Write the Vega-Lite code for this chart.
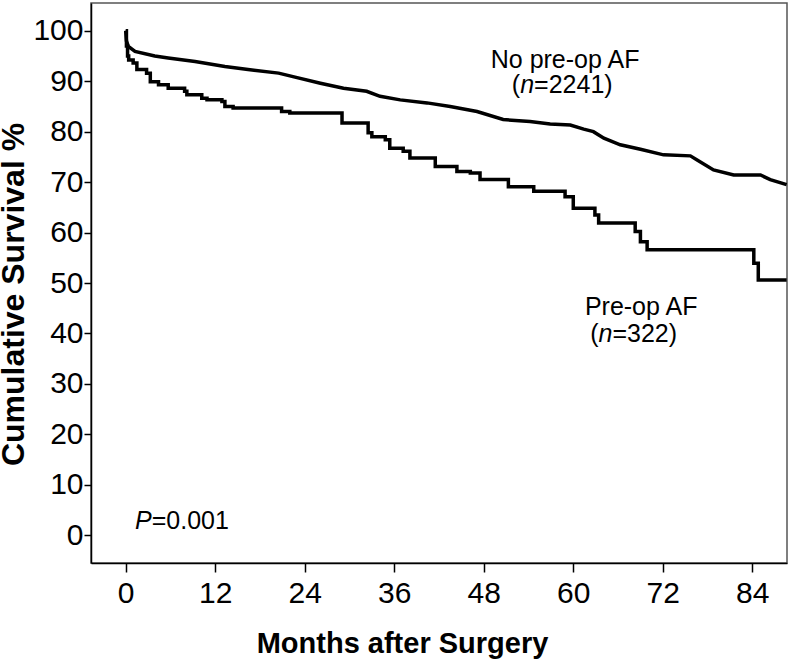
{
  "$schema": "https://vega.github.io/schema/vega-lite/v6.json",
  "width": 696,
  "height": 560,
  "autosize": {"type": "none"},
  "padding": {"left": 91, "top": 3, "right": 4, "bottom": 97},
  "background": "white",
  "config": {
    "view": {"stroke": "#555", "strokeWidth": 1.5},
    "font": "Liberation Sans"
  },
  "datasets": {
    "curves": [
      {"group": "No pre-op AF", "month": 0, "survival": 100},
      {"group": "No pre-op AF", "month": 0.1, "survival": 98},
      {"group": "No pre-op AF", "month": 0.35, "survival": 96.9},
      {"group": "No pre-op AF", "month": 1.25, "survival": 95.9},
      {"group": "No pre-op AF", "month": 3.9, "survival": 95.0},
      {"group": "No pre-op AF", "month": 5.7, "survival": 94.6},
      {"group": "No pre-op AF", "month": 9.3, "survival": 93.9},
      {"group": "No pre-op AF", "month": 13.3, "survival": 92.9},
      {"group": "No pre-op AF", "month": 16.4, "survival": 92.3},
      {"group": "No pre-op AF", "month": 20.5, "survival": 91.6},
      {"group": "No pre-op AF", "month": 22.7, "survival": 90.8},
      {"group": "No pre-op AF", "month": 26.1, "survival": 89.6},
      {"group": "No pre-op AF", "month": 29.2, "survival": 88.6},
      {"group": "No pre-op AF", "month": 32.3, "survival": 88.0},
      {"group": "No pre-op AF", "month": 34.1, "survival": 87.0},
      {"group": "No pre-op AF", "month": 36.8, "survival": 86.3},
      {"group": "No pre-op AF", "month": 40.4, "survival": 85.7},
      {"group": "No pre-op AF", "month": 43.5, "survival": 85.0},
      {"group": "No pre-op AF", "month": 47.1, "survival": 84.0},
      {"group": "No pre-op AF", "month": 50.6, "survival": 82.4},
      {"group": "No pre-op AF", "month": 54.2, "survival": 82.0},
      {"group": "No pre-op AF", "month": 56.9, "survival": 81.5},
      {"group": "No pre-op AF", "month": 59.6, "survival": 81.3},
      {"group": "No pre-op AF", "month": 61.4, "survival": 80.5},
      {"group": "No pre-op AF", "month": 62.7, "survival": 80.0},
      {"group": "No pre-op AF", "month": 64.1, "survival": 78.7},
      {"group": "No pre-op AF", "month": 66.3, "survival": 77.4},
      {"group": "No pre-op AF", "month": 69.0, "survival": 76.5},
      {"group": "No pre-op AF", "month": 72.1, "survival": 75.4},
      {"group": "No pre-op AF", "month": 75.7, "survival": 75.2},
      {"group": "No pre-op AF", "month": 76.6, "survival": 74.4},
      {"group": "No pre-op AF", "month": 78.8, "survival": 72.4},
      {"group": "No pre-op AF", "month": 81.5, "survival": 71.4},
      {"group": "No pre-op AF", "month": 85.1, "survival": 71.4},
      {"group": "No pre-op AF", "month": 86.4, "survival": 70.5},
      {"group": "No pre-op AF", "month": 88.6, "survival": 69.5},
      {"group": "Pre-op AF", "month": 0, "survival": 100},
      {"group": "Pre-op AF", "month": 0.1, "survival": 97},
      {"group": "Pre-op AF", "month": 0.25, "survival": 95},
      {"group": "Pre-op AF", "month": 0.4, "survival": 94.2},
      {"group": "Pre-op AF", "month": 1.0, "survival": 93.6},
      {"group": "Pre-op AF", "month": 1.5, "survival": 92.3},
      {"group": "Pre-op AF", "month": 2.8, "survival": 91.6},
      {"group": "Pre-op AF", "month": 3.3, "survival": 89.9},
      {"group": "Pre-op AF", "month": 4.4, "survival": 89.3},
      {"group": "Pre-op AF", "month": 5.7, "survival": 88.6},
      {"group": "Pre-op AF", "month": 7.9, "survival": 88.0},
      {"group": "Pre-op AF", "month": 8.2, "survival": 87.3},
      {"group": "Pre-op AF", "month": 10.2, "survival": 86.6},
      {"group": "Pre-op AF", "month": 10.9, "survival": 86.3},
      {"group": "Pre-op AF", "month": 12.9, "survival": 86.0},
      {"group": "Pre-op AF", "month": 13.3, "survival": 85.0},
      {"group": "Pre-op AF", "month": 14.4, "survival": 84.7},
      {"group": "Pre-op AF", "month": 20.9, "survival": 84.0},
      {"group": "Pre-op AF", "month": 22.0, "survival": 83.7},
      {"group": "Pre-op AF", "month": 29.0, "survival": 81.7},
      {"group": "Pre-op AF", "month": 32.5, "survival": 79.8},
      {"group": "Pre-op AF", "month": 33.0, "survival": 79.0},
      {"group": "Pre-op AF", "month": 34.8, "survival": 78.4},
      {"group": "Pre-op AF", "month": 35.4, "survival": 76.7},
      {"group": "Pre-op AF", "month": 37.2, "survival": 76.1},
      {"group": "Pre-op AF", "month": 38.1, "survival": 74.8},
      {"group": "Pre-op AF", "month": 41.5, "survival": 73.1},
      {"group": "Pre-op AF", "month": 44.4, "survival": 72.1},
      {"group": "Pre-op AF", "month": 46.2, "survival": 71.8},
      {"group": "Pre-op AF", "month": 47.5, "survival": 70.5},
      {"group": "Pre-op AF", "month": 51.3, "survival": 69.1},
      {"group": "Pre-op AF", "month": 54.7, "survival": 68.2},
      {"group": "Pre-op AF", "month": 58.9, "survival": 67.1},
      {"group": "Pre-op AF", "month": 60.0, "survival": 64.8},
      {"group": "Pre-op AF", "month": 62.9, "survival": 63.5},
      {"group": "Pre-op AF", "month": 63.4, "survival": 61.9},
      {"group": "Pre-op AF", "month": 68.3, "survival": 60.2},
      {"group": "Pre-op AF", "month": 69.0, "survival": 58.2},
      {"group": "Pre-op AF", "month": 69.9, "survival": 56.6},
      {"group": "Pre-op AF", "month": 84.2, "survival": 53.9},
      {"group": "Pre-op AF", "month": 84.8, "survival": 50.6},
      {"group": "Pre-op AF", "month": 88.6, "survival": 50.6}
    ]
  },
  "encoding": {
    "x": {
      "field": "month", "type": "quantitative",
      "scale": {"domain": [-4.65, 88.65], "nice": false, "zero": false},
      "axis": {
        "title": "Months after Surgery",
        "values": [0, 12, 24, 36, 48, 60, 72, 84],
        "grid": false,
        "domainColor": "black", "domainWidth": 1.5,
        "tickColor": "black", "tickSize": 9, "tickWidth": 1.5,
        "labelFontSize": 30, "labelColor": "black", "labelFont": "Liberation Sans",
        "labelBaseline": "alphabetic", "labelPadding": 30,
        "titleFontSize": 29, "titleFontWeight": "bold", "titleColor": "black", "titleFont": "Liberation Sans",
        "titleBaseline": "alphabetic", "titleAnchor": "start", "titleAlign": "center",
        "titleX": 311, "titleY": 89
      }
    },
    "y": {
      "field": "survival", "type": "quantitative",
      "scale": {"domain": [-5.5, 105.5], "nice": false, "zero": false},
      "axis": {
        "title": "Cumulative Survival %",
        "values": [0, 10, 20, 30, 40, 50, 60, 70, 80, 90, 100],
        "grid": false,
        "domainColor": "black", "domainWidth": 1.5,
        "tickColor": "black", "tickSize": 7, "tickWidth": 1.5,
        "labelFontSize": 30, "labelColor": "black", "labelFont": "Liberation Sans",
        "labelPadding": 1,
        "titleFontSize": 32, "titleFontWeight": "bold", "titleColor": "black", "titleFont": "Liberation Sans",
        "titleBaseline": "alphabetic", "titleAngle": -90, "titleAlign": "center",
        "titleX": -67.5, "titleY": 291
      }
    }
  },
  "layer": [
    {
      "data": {"name": "curves"},
      "transform": [{"filter": "datum.group === 'No pre-op AF'"}],
      "mark": {"type": "line", "color": "black", "strokeWidth": 3.5, "interpolate": "linear"}
    },
    {
      "data": {"name": "curves"},
      "transform": [{"filter": "datum.group === 'Pre-op AF'"}],
      "mark": {"type": "line", "color": "black", "strokeWidth": 3.5, "interpolate": "step-after"}
    },
    {
      "data": {"values": [
        {"month": 58.9, "survival": 92.66, "label": "No pre-op AF"},
        {"month": 69.1, "survival": 43.7, "label": "Pre-op AF"}
      ]},
      "mark": {"type": "text", "align": "center", "baseline": "alphabetic", "fontSize": 25, "font": "Liberation Sans", "color": "black"},
      "encoding": {"text": {"field": "label"}}
    },
    {
      "data": {"values": [
        {"month": 52.88, "survival": 87.7, "label": "("},
        {"month": 63.39, "survival": 38.4, "label": "("}
      ]},
      "mark": {"type": "text", "align": "right", "baseline": "alphabetic", "fontSize": 25, "font": "Liberation Sans", "color": "black"},
      "encoding": {"text": {"field": "label"}}
    },
    {
      "data": {"values": [
        {"month": 52.88, "survival": 87.7, "label": "n"},
        {"month": 63.39, "survival": 38.4, "label": "n"}
      ]},
      "mark": {"type": "text", "align": "left", "baseline": "alphabetic", "fontSize": 25, "font": "Liberation Sans", "fontStyle": "italic", "color": "black"},
      "encoding": {"text": {"field": "label"}}
    },
    {
      "data": {"values": [
        {"month": 54.75, "survival": 87.7, "label": "=2241)"},
        {"month": 65.25, "survival": 38.4, "label": "=322)"},
        {"month": 3.49, "survival": 1.19, "label": "=0.001"}
      ]},
      "mark": {"type": "text", "align": "left", "baseline": "alphabetic", "fontSize": 25, "font": "Liberation Sans", "color": "black"},
      "encoding": {"text": {"field": "label"}}
    },
    {
      "data": {"values": [
        {"month": 3.49, "survival": 1.19, "label": "P"}
      ]},
      "mark": {"type": "text", "align": "right", "baseline": "alphabetic", "fontSize": 25, "font": "Liberation Sans", "fontStyle": "italic", "color": "black"},
      "encoding": {"text": {"field": "label"}}
    }
  ]
}
